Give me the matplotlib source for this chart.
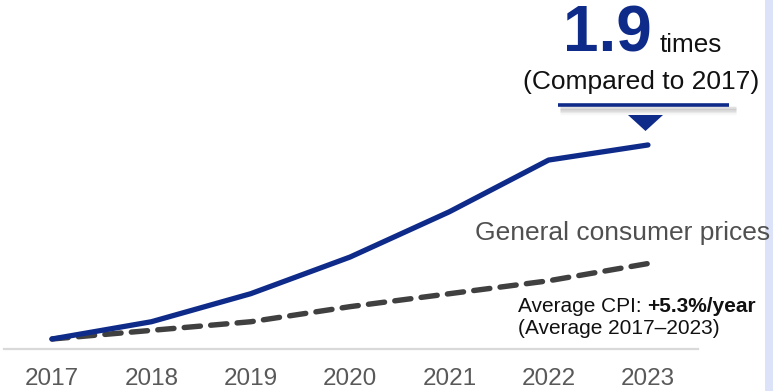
import matplotlib.pyplot as plt
from matplotlib.patches import Polygon, Rectangle

plt.rcParams['font.family'] = ['Liberation Sans', 'DejaVu Sans']

years = [2017, 2018, 2019, 2020, 2021, 2022, 2023]
index_values = [1.00, 1.08, 1.21, 1.38, 1.59, 1.83, 1.90]
cpi_values = [1.00, 1.04, 1.08, 1.15, 1.21, 1.27, 1.35]
year_labels = [str(y) for y in years]

NAVY = '#0f2b8a'
DARK = '#404040'
GRAY_TXT = '#595959'

W, H = 773, 391
fig = plt.figure(figsize=(W / 100, H / 100), dpi=100)

# main axes fills the figure; limits chosen so the plot sits where we want it
ax = fig.add_axes([0, 0, 1, 1])
ax.set_xlim(2016.4765, 2024.259)
ax.set_ylim(0.7588, 2.5724)
ax.axis('off')

ax.plot(years, cpi_values, color=DARK, lw=3.9, ls=(0, (3.0, 1.9)),
        solid_capstyle='round', dash_capstyle='round', zorder=3)
ax.plot(years, index_values, color=NAVY, lw=3.8, solid_capstyle='round', zorder=4)

# overlay in pixel coordinates for the decorations
deco = fig.add_axes([0, 0, 1, 1], facecolor='none')
deco.set_xlim(0, W)
deco.set_ylim(H, 0)
deco.axis('off')

# light band on the right edge
deco.add_patch(Rectangle((765, 0), 8, H, color='#dce3f8', lw=0, zorder=0))

# baseline
deco.plot([4, 698], [349, 349], color='#d9d9d9', lw=1.6, zorder=1)

# year labels under each point
for yr, lab in zip(years, year_labels):
    px = 52 + (yr - 2017) * 99.33
    deco.text(px, 379, lab, ha='center', va='center', fontsize=17.5, color=GRAY_TXT)

# headline callout
deco.text(652, 52, '1.9', ha='right', va='baseline', fontsize=46, fontweight='bold', color=NAVY)
deco.text(660, 52, 'times', ha='left', va='baseline', fontsize=18.8, color='#111111')
deco.text(641, 82, '(Compared to 2017)', ha='center', va='center', fontsize=19, color='#111111')

# soft shadow under the bar
for i, a in enumerate([0.18, 0.12, 0.07, 0.04]):
    deco.plot([560, 736], [108 + i * 1.5, 108 + i * 1.5], color='#555555', lw=2.5, alpha=a,
              solid_capstyle='butt', zorder=1)
deco.plot([558, 729], [105, 105], color=NAVY, lw=2.6, solid_capstyle='butt', zorder=2)
deco.add_patch(Polygon([[628, 115], [663, 115], [645.5, 131]], closed=True, color=NAVY, lw=0))

deco.text(475, 233, 'General consumer prices', ha='left', va='center', fontsize=19, color='#505050')

# CPI note: regular lead-in followed by the bold figure
lead = deco.text(518, 306, 'Average CPI: ', ha='left', va='center', fontsize=15, color='#111111')
fig.canvas.draw()
bb = lead.get_window_extent()
x_bold = bb.x1 * W / fig.bbox.width
deco.text(x_bold, 306, '+5.3%/year', ha='left', va='center', fontsize=15, fontweight='bold', color='#111111')
deco.text(518, 328, '(Average 2017\u20132023)', ha='left', va='center', fontsize=15, color='#111111')

fig.savefig('out.png', dpi=100)
